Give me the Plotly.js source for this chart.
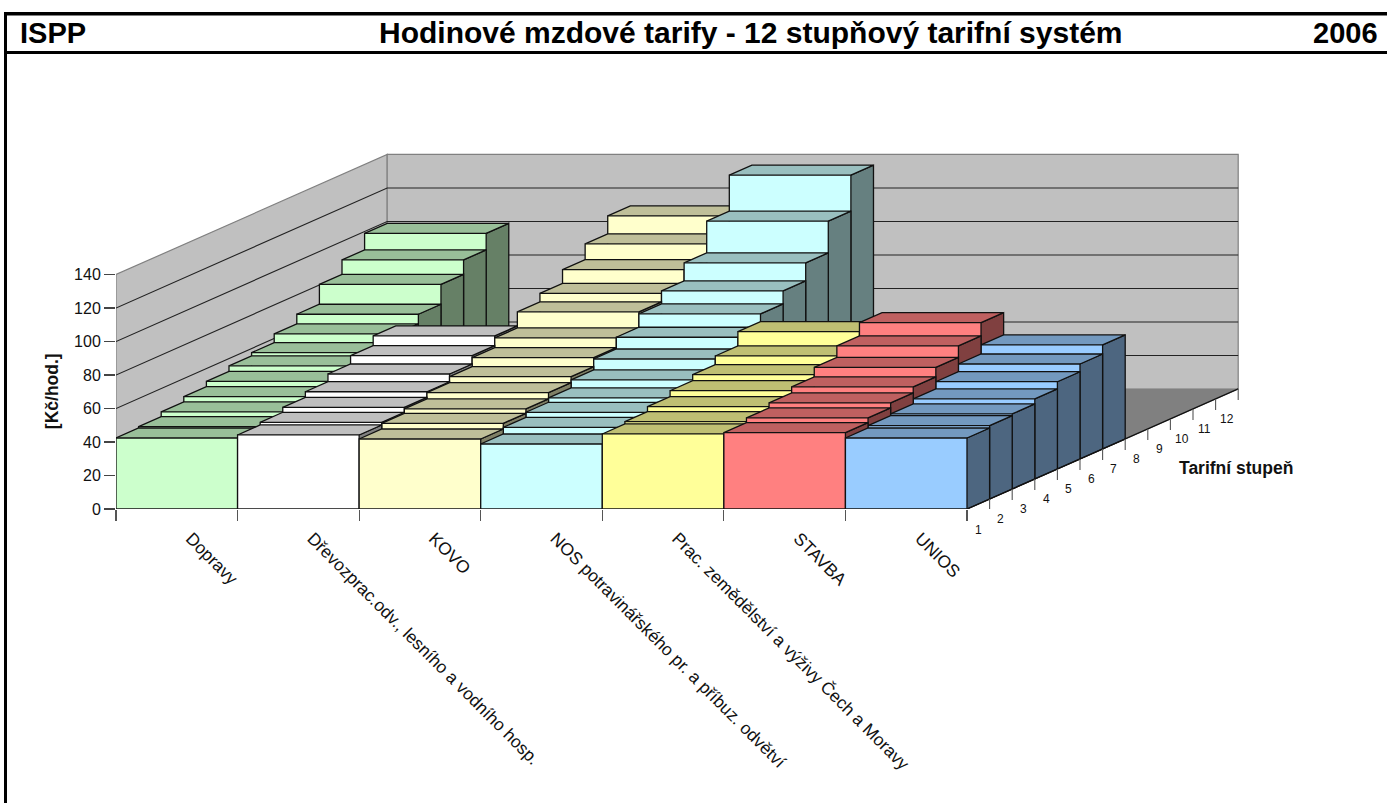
<!DOCTYPE html>
<html><head><meta charset="utf-8">
<script src="https://cdn.plot.ly/plotly-3.0.1.min.js"></script>
<style>html,body{margin:0;padding:0;background:#fff;overflow:hidden}</style>
</head><body><div id="chart" style="width:1387px;height:803px"></div>
<script>
// ---- data ----
const categories = ["Dopravy","Dřevozprac.odv., lesního a vodního hosp.","KOVO","NOS potravinářského pr. a příbuz. odvětví","Prac. zemědělství a výživy Čech a Moravy","STAVBA","UNIOS"];
const steps = [1,2,3,4,5,6,7,8,9,10,11,12];
const dopravy = [42.4,43.2,46.0,49.2,52.3,55.6,57.5,62.7,68.5,80.4,89.0,98.9];
const drevo   = [44.2,45.8,48.7,52.1,56.7,61.7,67.5];
const kovo    = [41.8,45.2,47.8,51.6,55.1,60.5,66.3,75.9,81.0,89.2,98.6,109.3];
const nos     = [38.8,42.8,45.8,48.4,53.2,59.7,66.7,74.7,82.4,93.2,112.1,133.6];
const prac    = [44.8,46.2,49.2,52.7,56.3,61.5,70.1];
const stavba  = [45.6,48.4,51.4,55.0,60.7,67.5,75.4];
const unios   = [42.4,43.8,44.8,47.8,52.1,56.7,62.1];
const seriesValues = [dopravy,drevo,kovo,nos,prac,stavba,unios];
const frontColors = ["#CCFFCC","#FFFFFF","#FFFFCC","#CCFFFF","#FFFF99","#FF8080","#99CCFF"];
const yTicks = [0,20,40,60,80,100,120,140];

// ---- oblique projection, in axis units ----
const PL=116, PR=1300, PT=100, PB=508.8;
const pxPerCat=851/7, pxPerVal=1.674;
const dX=22.6/pxPerCat, dY=10.0/pxPerVal;   // shift per tariff step
const nC=categories.length, nR=steps.length, vMax=140;
const px=(c,d)=>c+d*dX, py=(v,d)=>v+d*dY;
const shade=(hex,f)=>{const n=parseInt(hex.slice(1),16);
  const ch=s=>Math.round(((n>>s)&255)*f);return `rgb(${ch(16)},${ch(8)},${ch(0)})`;};
const traces=[];
function poly(pts,fill,lineColor,lw){
  traces.push({type:'scatter',mode:'lines',x:pts.map(p=>px(p[0],p[2])),y:pts.map(p=>py(p[1],p[2])),
    fill:'toself',fillcolor:fill,line:{color:lineColor,width:lw},hoverinfo:'skip',showlegend:false});
}
function lines(segs,color,w){
  const x=[],y=[];
  segs.forEach(s=>{s.forEach(p=>{x.push(p[0]);y.push(p[1]);});x.push(null);y.push(null);});
  traces.push({type:'scatter',mode:'lines',x,y,line:{color,width:w},hoverinfo:'skip',showlegend:false,cliponaxis:false});
}
// walls and floor
poly([[0,0,0],[0,vMax,0],[0,vMax,nR],[0,0,nR]],'#C0C0C0','#808080',1.2);
poly([[0,0,nR],[0,vMax,nR],[nC,vMax,nR],[nC,0,nR]],'#C0C0C0','#808080',1.2);
poly([[0,0,0],[nC,0,0],[nC,0,nR],[0,0,nR]],'#808080','#808080',1);
// gridlines
lines(yTicks.slice(1,-1).map(v=>[[px(0,0),py(v,0)],[px(0,nR),py(v,nR)],[px(nC,nR),py(v,nR)]]),'#222',1.1);
// bars: back to front, left to right
for(let r=nR-1;r>=0;r--){
  for(let c=0;c<nC;c++){
    const v=seriesValues[c][r];
    if(v==null)continue;
    const col=frontColors[c];
    poly([[c+1,0,r],[c+1,0,r+1],[c+1,v,r+1],[c+1,v,r]],shade(col,0.5),'#111',1.3);
    poly([[c,v,r],[c,v,r+1],[c+1,v,r+1],[c+1,v,r]],shade(col,0.75),'#111',1.3);
    poly([[c,0,r],[c,v,r],[c+1,v,r],[c+1,0,r]],col,'#111',1.3);
  }
}
// front floor edges
lines([[[px(0,0),py(0,0)],[px(nC,0),py(0,0)],[px(nC,nR),py(0,nR)]]],'#111',1.3);
// depth ticks
const tickDrop=11/pxPerVal;
const dTicks=[];for(let d=0;d<=nR;d++)dTicks.push([[px(nC,d),py(0,d)],[px(nC,d),py(0,d)-tickDrop]]);
lines(dTicks,'#555',1.1);

const font='Liberation Sans, Arial, sans-serif';
const fx=p=>(p-PL)/(PR-PL), fy=p=>(PB-p)/(PB-PT);
const W=PR-PL,H=PB-PT;
const stepLabels=steps.map(s=>({xref:'x',yref:'y',x:px(nC,s-0.5),y:py(0,s-0.5),yshift:-25.5,
  xanchor:'center',yanchor:'middle',text:String(s),showarrow:false,font:{family:font,size:12,color:'#111'}}));
const layout={
  width:1387,height:803,autosize:false,showlegend:false,hovermode:false,
  paper_bgcolor:'#fff',plot_bgcolor:'rgba(0,0,0,0)',
  margin:{l:PL,r:1387-PR,t:PT,b:803-PB,pad:0},
  xaxis:{range:[0,W/pxPerCat],showgrid:false,zeroline:false,showline:false,fixedrange:true,
    tickmode:'array',tickvals:categories.map((_,i)=>i+0.5),ticktext:categories,tickangle:45,ticks:'',
    ticklabelstandoff:15,ticklabelshift:14,tickfont:{family:font,size:17.4,color:'#111'},
    minor:{tickmode:'array',tickvals:[0,1,2,3,4,5,6,7],ticks:'outside',ticklen:11,tickcolor:'#555',tickwidth:1.1,showgrid:false}},
  yaxis:{range:[0,H/pxPerVal],showgrid:false,zeroline:false,showline:false,fixedrange:true,
    tickmode:'array',tickvals:yTicks,ticks:'outside',ticklen:11,tickcolor:'#444',tickwidth:1.1,
    ticklabelstandoff:0,tickfont:{family:font,size:16,color:'#111'}},
  shapes:[
    {type:'rect',xref:'paper',yref:'paper',x0:fx(4),x1:fx(1387),y0:fy(15.5),y1:fy(12),fillcolor:'#000',line:{width:0}},
    {type:'rect',xref:'paper',yref:'paper',x0:fx(4),x1:fx(1387),y0:fy(54),y1:fy(51),fillcolor:'#000',line:{width:0}},
    {type:'rect',xref:'paper',yref:'paper',x0:fx(4),x1:fx(7),y0:fy(803),y1:fy(12),fillcolor:'#000',line:{width:0}}
  ],
  annotations:[
    {xref:'paper',yref:'paper',x:fx(18),y:fy(33),xanchor:'left',yanchor:'middle',text:'<b>ISPP</b>',showarrow:false,font:{family:font,size:29,color:'#000'}},
    {xref:'paper',yref:'paper',x:fx(751),y:fy(33),xanchor:'center',yanchor:'middle',text:'<b>Hodinové mzdové tarify - 12 stupňový tarifní systém</b>',showarrow:false,font:{family:font,size:30,color:'#000'}},
    {xref:'paper',yref:'paper',x:fx(1380),y:fy(33),xanchor:'right',yanchor:'middle',text:'<b>2006</b>',showarrow:false,font:{family:font,size:29,color:'#000'}},
    {xref:'paper',yref:'paper',x:fx(52),y:fy(391),xanchor:'center',yanchor:'middle',textangle:-90,text:'<b>[Kč/hod.]</b>',showarrow:false,font:{family:font,size:17.5,color:'#111'}},
    {xref:'paper',yref:'paper',x:fx(1236),y:fy(468),xanchor:'center',yanchor:'middle',text:'<b>Tarifní stupeň</b>',showarrow:false,font:{family:font,size:17.5,color:'#111'}}
  ].concat(stepLabels)
};
Plotly.newPlot('chart',traces,layout,{displayModeBar:false,staticPlot:true});
</script></body></html>
